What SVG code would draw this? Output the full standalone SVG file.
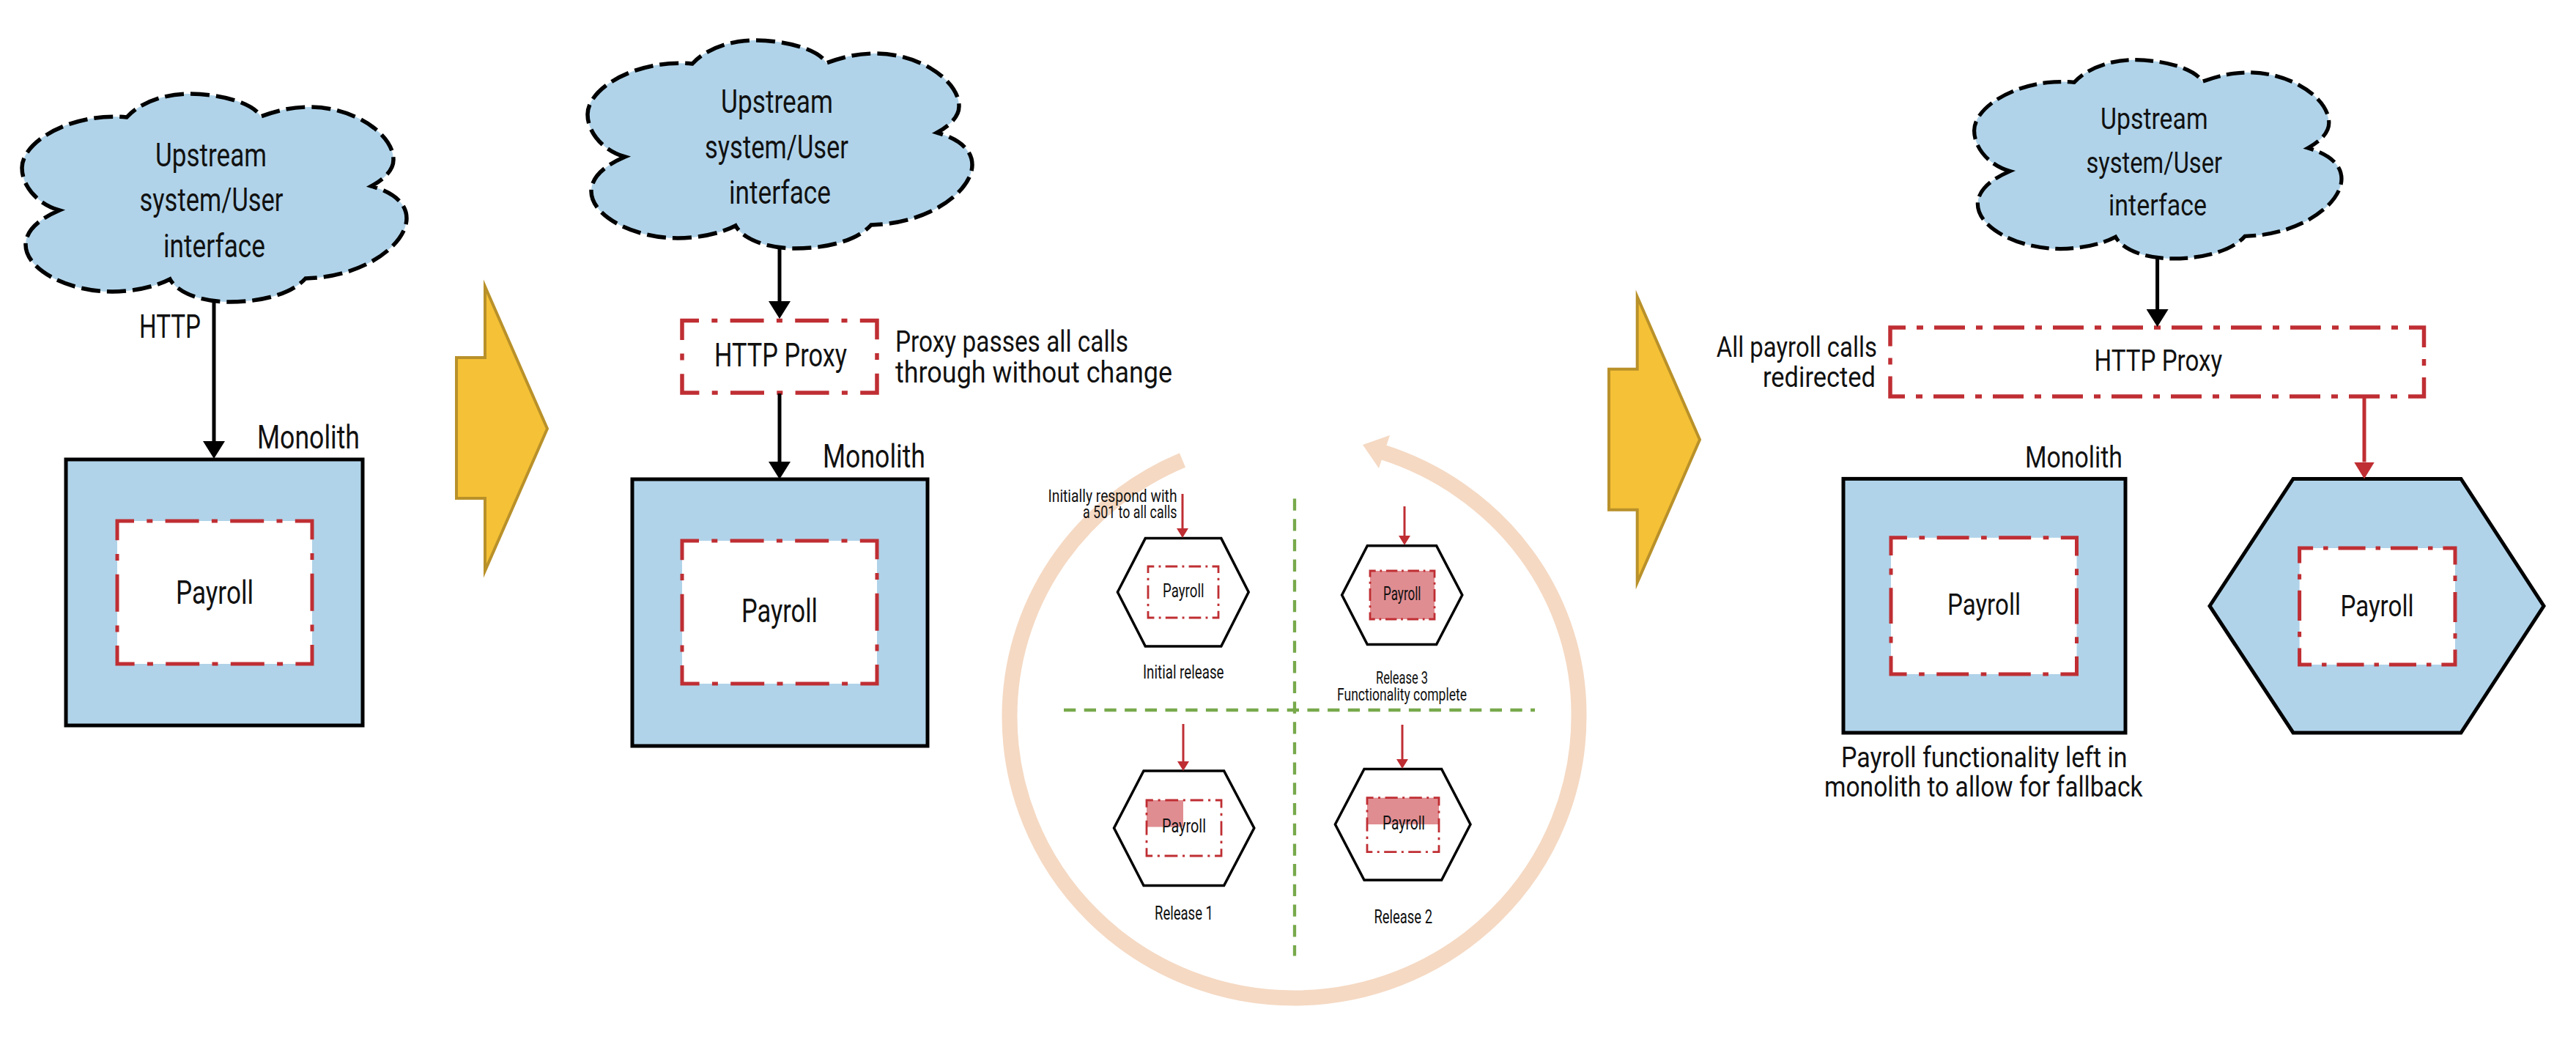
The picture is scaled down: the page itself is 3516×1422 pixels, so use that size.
<svg xmlns="http://www.w3.org/2000/svg" xmlns:xlink="http://www.w3.org/1999/xlink" width="3516" height="1422" viewBox="0 0 3516 1422">
<style>
text{font-family:"Roboto","Liberation Sans",sans-serif;fill:#111;font-size:44px}
.s{font-size:26px}
.m{font-size:41px}
.t1{font-size:41px}
.t2{font-size:38px}
.t3{font-size:24px}
.blue{fill:#b0d3e9;stroke:#000;stroke-width:5;stroke-linejoin:miter}
.hex{fill:#fff;stroke:#000;stroke-width:3.5;stroke-linejoin:miter}
.cloud{fill:#b0d3e9;stroke:#000;stroke-width:5.5;stroke-dasharray:26 9}
.yl{fill:#f5c136;stroke:#b9912a;stroke-width:4;stroke-linejoin:miter;stroke-miterlimit:8}
.inner{fill:#fff;stroke:#bf2e33;stroke-width:5;stroke-dasharray:23 17.3 8 17.3 46 17.3 8 17.3 46 17.3 8 17.3 48.5 18.7 9 18.7 51 18.7 9 18.7 48.5 17.3 8 17.3 46 17.3 8 17.3 46 17.3 8 17.3 48.5 18.7 9 18.7 51 18.7 9 18.7 25.5 0}
.thin{stroke-width:2.8}
.px2{fill:#fff;stroke:#bf2e33;stroke-width:5.5;stroke-dasharray:23 17.3 8 17.3 46 17.3 8 17.3 46 17.3 8 17.3 49 18.7 9 18.7 49 17.3 8 17.3 46 17.3 8 17.3 46 17.3 8 17.3 49 18.7 9 18.7 26 0}
.px3{fill:#fff;stroke:#bf2e33;stroke-width:5.5;stroke-dasharray:21 15 9 15 42 15 9 15 42 15 9 15 42 15 9 15 42 15 9 15 42 15 9 15 42 15 9 15 42 15 9 15 42 15 9 15 47.5 16 9 16 47.5 15 9 15 42 15 9 15 42 15 9 15 42 15 9 15 42 15 9 15 42 15 9 15 42 15 9 15 42 15 9 15 42 15 9 15 47.5 16 9 16 26.5 0}
.pink{fill:#e08d91}
.bk{stroke:#000;stroke-width:5;fill:none;marker-end:url(#ab)}
.rd{stroke:#bf2e33;stroke-width:5;fill:none;marker-end:url(#ar)}
.rs{stroke:#bf2e33;stroke-width:3;fill:none;marker-end:url(#as)}
.gd{stroke:#77a94b;stroke-width:4.3;fill:none;stroke-dasharray:16.3 11.4}
</style>
<defs>
<marker id="ab" markerUnits="userSpaceOnUse" markerWidth="24" markerHeight="30" viewBox="0 0 24 30" refX="0" refY="15" orient="auto"><path d="M0,0L24,15L0,30Z" fill="#000"/></marker>
<marker id="ar" markerUnits="userSpaceOnUse" markerWidth="23" markerHeight="28" viewBox="0 0 23 28" refX="0" refY="14" orient="auto"><path d="M0,0L23,14L0,28Z" fill="#bf2e33"/></marker>
<marker id="as" markerUnits="userSpaceOnUse" markerWidth="13" markerHeight="16" viewBox="0 0 13 16" refX="0" refY="8" orient="auto"><path d="M0,0L13,8L0,16Z" fill="#bf2e33"/></marker>
<path id="cl" d="M853,214 C822,205 802,180 802,156 C802,120 870,80 945,87 C962,68 995,55 1030,55 C1075,55 1118,68 1128,86 C1150,78 1170,73 1195,73 C1255,73 1309,110 1309,145 C1309,160 1295,172 1279,181 C1310,190 1327,205 1327,225 C1327,260 1270,305 1189,307 C1170,328 1130,339 1085,339 C1050,339 1015,328 1004,308 C985,318 955,325 925,325 C865,325 807,295 807,261 C807,242 825,226 853,214Z"/>
</defs>
<rect width="3516" height="1422" fill="#fff"/>

<g id="cycle-ring">
<path d="M1614,628 A388,380 0 0 0 1378,978 A388,384 0 0 0 1766,1362 A389,384 0 0 0 2155,978 A389,376 0 0 0 1887,617" fill="none" stroke="#f5d9c3" stroke-width="21"/>
<path d="M1860,607 L1897,594 L1882,639Z" fill="#f5d9c3"/>
</g>

<g id="cloud-1"><use xlink:href="#cl" href="#cl" class="cloud" transform="translate(-772,73)"/>
<text x="212" y="227" textLength="152" lengthAdjust="spacingAndGlyphs">Upstream</text>
<text x="190.5" y="288" textLength="196" lengthAdjust="spacingAndGlyphs">system/User</text>
<text x="223" y="351" textLength="139" lengthAdjust="spacingAndGlyphs">interface</text></g>
<g id="http-label"><text x="190" y="461" textLength="84" lengthAdjust="spacingAndGlyphs">HTTP</text></g>
<g id="monolith-1"><rect class="blue" x="90" y="627" width="405" height="363"/>
<text x="351" y="612" textLength="140" lengthAdjust="spacingAndGlyphs">Monolith</text>
<rect class="inner" x="160" y="711" width="266" height="195"/>
<text x="240" y="824" textLength="106" lengthAdjust="spacingAndGlyphs">Payroll</text></g>
<g id="step-arrow-1"><polygon class="yl" points="623,488 662,488 662,391 747,585 662,779 662,680 623,680"/></g>

<g id="cloud-2"><use xlink:href="#cl" href="#cl" class="cloud"/>
<text x="984" y="154" textLength="153" lengthAdjust="spacingAndGlyphs">Upstream</text>
<text x="962" y="216" textLength="196" lengthAdjust="spacingAndGlyphs">system/User</text>
<text x="995" y="278" textLength="139" lengthAdjust="spacingAndGlyphs">interface</text></g>
<g id="proxy-2"><rect class="px2" x="931" y="437.5" width="266" height="98.4"/>
<text x="975" y="500" textLength="181" lengthAdjust="spacingAndGlyphs">HTTP Proxy</text>
<text class="t1" x="1222" y="480" textLength="318" lengthAdjust="spacingAndGlyphs">Proxy passes all calls</text>
<text class="t1" x="1222" y="522" textLength="378" lengthAdjust="spacingAndGlyphs">through without change</text></g>
<g id="monolith-2"><rect class="blue" x="863" y="654" width="403" height="364"/>
<text x="1123" y="638" textLength="140" lengthAdjust="spacingAndGlyphs">Monolith</text>
<rect class="inner" x="931" y="738" width="266" height="195"/>
<text x="1012" y="849" textLength="104" lengthAdjust="spacingAndGlyphs">Payroll</text></g>

<g id="quadrant-lines"><path class="gd" d="M1767,680.5V1304.5"/><path class="gd" d="M1452,969H2095"/></g>

<g id="initial-release">
<polygon class="hex" points="1525.4,808 1563.3,734.6 1666.8,734.6 1704.2,808 1666.8,882 1563.3,882"/>
<rect class="inner thin" pathLength="921" x="1567" y="773" width="96" height="70"/>
<text class="s" x="1587" y="815" textLength="56.5" lengthAdjust="spacingAndGlyphs">Payroll</text>
<text class="t3" x="1430.5" y="684.6" textLength="176" lengthAdjust="spacingAndGlyphs">Initially respond with</text>
<text class="t3" x="1478" y="706.5" textLength="128.5" lengthAdjust="spacingAndGlyphs">a 501 to all calls</text>
<text class="s" x="1560" y="926" textLength="110.5" lengthAdjust="spacingAndGlyphs">Initial release</text></g>

<g id="release-3">
<polygon class="hex" points="1831.6,812 1866.3,744.8 1960.6,744.8 1995.8,812 1960.6,879.5 1866.3,879.5"/>
<rect class="inner thin" style="fill:#e08d91" pathLength="921" x="1870" y="779" width="88" height="66"/>
<text class="s" x="1888" y="819" textLength="51.5" lengthAdjust="spacingAndGlyphs">Payroll</text>
<text class="t3" x="1878" y="933" textLength="71" lengthAdjust="spacingAndGlyphs">Release 3</text>
<text class="t3" x="1825" y="956" textLength="177" lengthAdjust="spacingAndGlyphs">Functionality complete</text></g>

<g id="release-1">
<polygon class="hex" points="1520.5,1130 1561,1052 1670.6,1052 1711.8,1130 1670.6,1208.6 1561,1208.6"/>
<rect class="pink" x="1565" y="1092" width="50" height="36.5"/>
<rect class="inner thin" style="fill:none" pathLength="921" x="1565" y="1092" width="102" height="76"/>
<text class="s" x="1586" y="1136" textLength="60" lengthAdjust="spacingAndGlyphs">Payroll</text>
<text class="s" x="1576" y="1254.5" textLength="80" lengthAdjust="spacingAndGlyphs">Release 1</text></g>

<g id="release-2">
<polygon class="hex" points="1822.4,1125 1862,1049.4 1967.6,1049.4 2007,1125 1967.6,1201 1862,1201"/>
<rect class="pink" x="1866" y="1088.7" width="98" height="36.3"/>
<rect class="inner thin" style="fill:none" pathLength="921" x="1866" y="1088.7" width="98" height="74"/>
<text class="s" x="1887" y="1132" textLength="58" lengthAdjust="spacingAndGlyphs">Payroll</text>
<text class="s" x="1875.5" y="1259.6" textLength="79.5" lengthAdjust="spacingAndGlyphs">Release 2</text></g>

<g id="step-arrow-2"><polygon class="yl" points="2196,503.7 2234.7,503.7 2234.7,405 2320,600 2234.7,795 2234.7,695.7 2196,695.7"/></g>

<g id="cloud-3"><use xlink:href="#cl" href="#cl" class="cloud" transform="translate(1928.7,29.2) scale(.955)"/>
<text class="m" x="2867" y="175.7" textLength="146.6" lengthAdjust="spacingAndGlyphs">Upstream</text>
<text class="m" x="2847.5" y="235.7" textLength="185.5" lengthAdjust="spacingAndGlyphs">system/User</text>
<text class="m" x="2878" y="294" textLength="134" lengthAdjust="spacingAndGlyphs">interface</text></g>
<g id="proxy-3"><rect class="px3" x="2580" y="447" width="728.5" height="94"/>
<text class="m" x="2858.6" y="505.6" textLength="174.6" lengthAdjust="spacingAndGlyphs">HTTP Proxy</text>
<text class="t2" x="2342.7" y="487" textLength="219.3" lengthAdjust="spacingAndGlyphs">All payroll calls</text>
<text class="t2" x="2406" y="527.6" textLength="154" lengthAdjust="spacingAndGlyphs">redirected</text></g>
<g id="monolith-3"><rect class="blue" x="2516" y="653.4" width="385" height="346.6"/>
<text class="m" x="2764" y="638" textLength="133" lengthAdjust="spacingAndGlyphs">Monolith</text>
<rect class="inner" pathLength="921" x="2581" y="733.8" width="253.5" height="186.2"/>
<text class="m" x="2658" y="839" textLength="100" lengthAdjust="spacingAndGlyphs">Payroll</text>
<text class="t2" x="2513" y="1046.5" textLength="390.6" lengthAdjust="spacingAndGlyphs">Payroll functionality left in</text>
<text class="t2" x="2490" y="1087" textLength="434.5" lengthAdjust="spacingAndGlyphs">monolith to allow for fallback</text></g>
<g id="payroll-service"><polygon class="blue" points="3016,827 3130,653.4 3359,653.4 3472,827 3359,1000 3130,1000"/>
<rect class="inner" pathLength="921" x="3138.6" y="748" width="212.4" height="159"/>
<text class="m" x="3194.5" y="841" textLength="100" lengthAdjust="spacingAndGlyphs">Payroll</text></g>

<g id="connectors">
<path class="bk" d="M292,412V602"/>
<path class="bk" d="M1064,339V411"/>
<path class="bk" d="M1064,537V630"/>
<path class="bk" d="M2944.6,353V422"/>
<path class="rd" d="M3227,541V630.5"/>
<path class="rs" d="M1614,674V721"/>
<path class="rs" d="M1917,691V731"/>
<path class="rs" d="M1615,988V1039"/>
<path class="rs" d="M1914,989V1036"/>
</g>
</svg>
